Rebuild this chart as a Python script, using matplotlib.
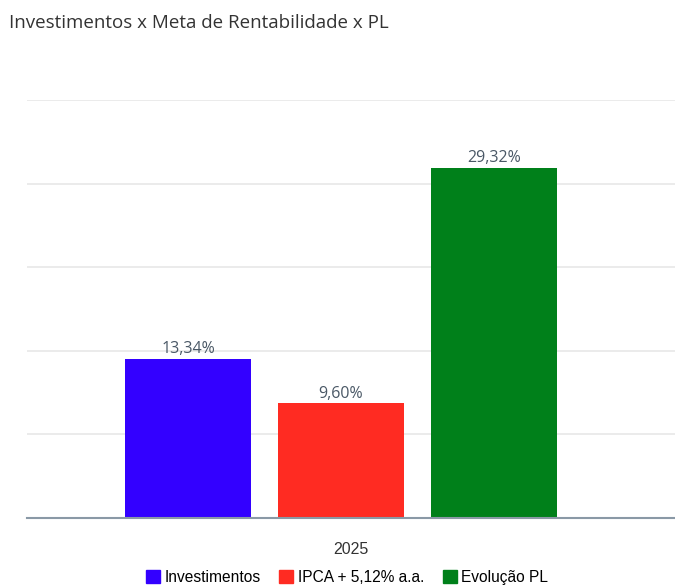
import matplotlib
matplotlib.use("Agg")
import matplotlib.pyplot as plt
from matplotlib.patches import Patch

series = ["Investimentos", "IPCA + 5,12% a.a.", "Evolução PL"]
values = [13.34, 9.60, 29.32]
labels = ["13,34%", "9,60%", "29,32%"]
colors = ["#3300ff", "#ff2b22", "#00801a"]
category = "2025"

fig = plt.figure(figsize=(6.75, 5.85), dpi=100)
ax = fig.add_axes([0.04, 0.1145, 0.96, 0.7145])

pos = [0, 1, 2]
ax.bar(pos, values, width=0.8235, color=colors, zorder=3)
for x, v, t in zip(pos, values, labels):
    ax.text(x, v + 0.15, t, ha="center", va="bottom", fontsize=11.5,
            family="Open Sans", color="#4a5866", zorder=4)

ax.set_ylim(0, 35)
ax.set_xlim(-1.052, 3.183)
ax.set_yticks([0, 7, 14, 21, 28, 35])
ax.yaxis.grid(True, color="#e8e8e8", linewidth=1.2, zorder=0)
ax.set_yticklabels([])
ax.set_xticks([])
ax.tick_params(left=False, bottom=False)
for s in ["top", "right", "left"]:
    ax.spines[s].set_visible(False)
ax.spines["bottom"].set_color("#8a99a6")
ax.spines["bottom"].set_linewidth(1.5)
ax.spines["bottom"].set_zorder(5)

ax.text(0.5, -0.075, category, transform=ax.transAxes, ha="center", va="center",
        fontsize=11.5, family="Liberation Sans", color="#333333")

fig.text(0.013, 0.96, "Investimentos x Meta de Rentabilidade x PL", ha="left",
         va="center", fontsize=13.5, family="Open Sans", color="#333333")

handles = [Patch(facecolor=c, edgecolor=c) for c in colors]
fig.legend(handles, series, loc="center", bbox_to_anchor=(0.514, 0.013),
           ncol=3, frameon=False,
           prop={"family": "Liberation Sans", "size": 11.2},
           handlelength=0.9, handleheight=0.9, handletextpad=0.3,
           columnspacing=1.2, borderaxespad=0)

fig.savefig("out.png", dpi=100)
